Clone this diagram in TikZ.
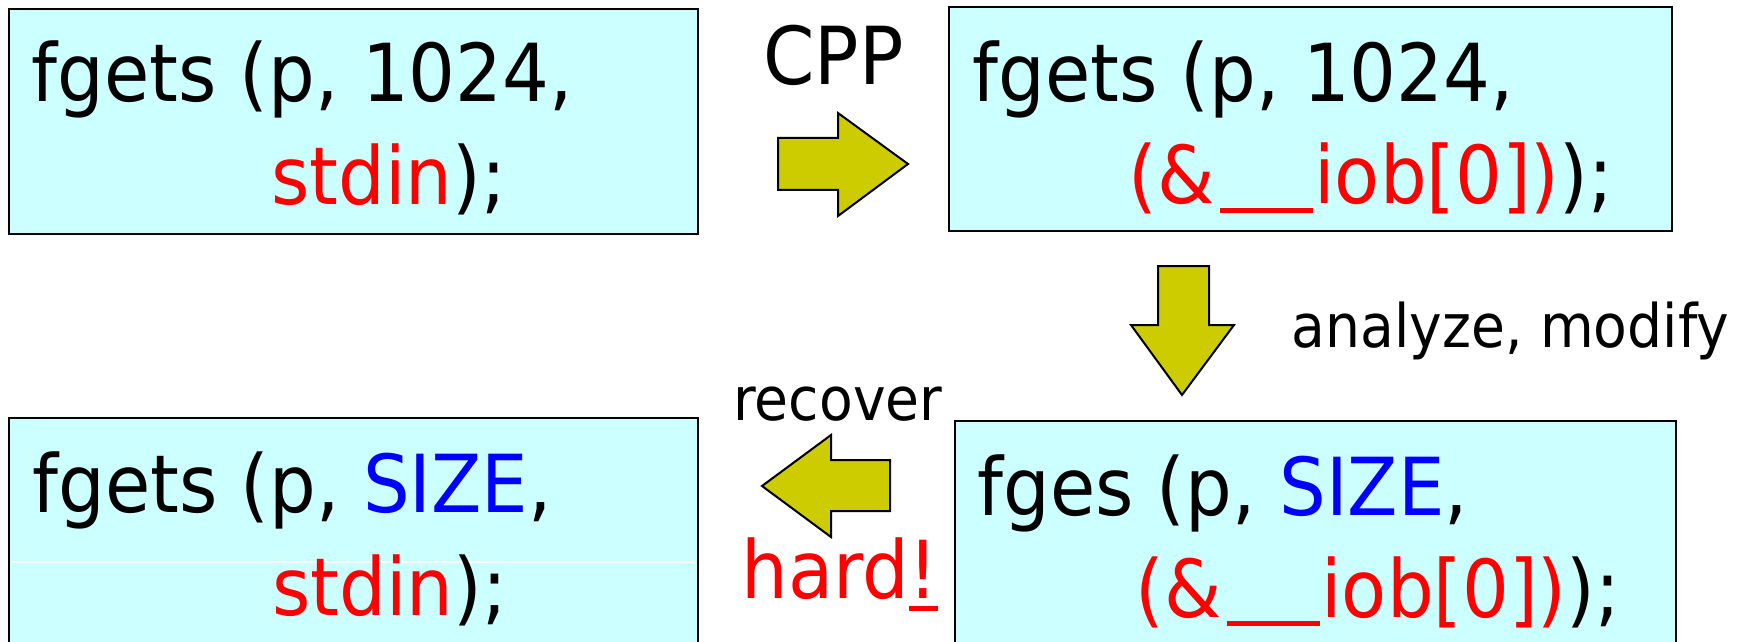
\documentclass[tikz,border=0pt]{standalone}
\usepackage{fontspec}
\setmainfont{DejaVu Sans}[FakeStretch=0.92]
\definecolor{boxfill}{HTML}{CCFFFF}
\definecolor{arrowfill}{HTML}{CCCC00}
\definecolor{hot}{HTML}{FF0000}
\definecolor{sym}{HTML}{0000FF}
% a wide underscore sitting close to the baseline
\newcommand{\lowbar}{\rule[-4.5pt]{23.25pt}{2.6pt}}
\newcommand{\iobref}{(\&\hspace{2.5pt}\lowbar\lowbar\hspace{1pt}iob[0])}
% underline of the width of its argument, a bit below the baseline
\newcommand{\barunder}[1]{{\setbox0\hbox{#1}\rlap{\rule[-6.5pt]{\wd0}{2.6pt}}\box0}}
\tikzset{
  codebox/.style={draw=black, line width=1.2pt, fill=boxfill},
  blockarrow/.style={draw=black, line width=1pt, fill=arrowfill, line join=miter},
  bigtext/.style={anchor=base west, inner sep=0pt, font=\fontsize{40pt}{48pt}\selectfont},
  smalltext/.style={anchor=base west, inner sep=0pt, font=\fontsize{30pt}{36pt}\selectfont},
}
\begin{document}
\begin{tikzpicture}[x=0.5pt, y=-0.5pt]
\useasboundingbox (0,0) rectangle (1742,642);
\clip (0,0) rectangle (1742,642);

% code boxes
\draw[codebox] (9,9) rectangle (698,234);
\draw[codebox] (949,7) rectangle (1672,231);
\draw[codebox] (955,421) rectangle (1676,670);
\draw[codebox] (9,418) rectangle (698,670);
\draw[white, line width=0.8pt] (12,562) -- (695,562);

% original source
\node[bigtext] (srcA) at (31,102) {fgets (p, 1024,};
\node[bigtext] (srcB) at (271,205) {\textcolor{hot}{stdin});};

% after preprocessing
\node[bigtext] (cppA) at (972,102) {fgets (p, 1024,};
\node[bigtext] (cppB) at (1128,204) {\textcolor{hot}{\iobref});};

% modified preprocessed code
\node[bigtext] (modA) at (977,515) {fges (p, \textcolor{sym}{SIZE},};
\node[bigtext] (modB) at (1135,617) {\textcolor{hot}{\iobref});};

% recovered source
\node[bigtext] (recA) at (32,512) {fgets (p, \textcolor{sym}{SIZE},};
\node[bigtext] (recB) at (272,615) {\textcolor{hot}{stdin});};

% step arrows
\draw[blockarrow] (778,138) -- (838,138) -- (838,113) -- (908,164) -- (838,216)
  -- (838,190) -- (778,190) -- cycle;
\draw[blockarrow] (1158,266) -- (1209,266) -- (1209,325) -- (1234,325) -- (1182,395)
  -- (1131,325) -- (1158,325) -- cycle;
\draw[blockarrow] (890,460) -- (831,460) -- (831,435) -- (762,486) -- (831,537)
  -- (831,511) -- (890,511) -- cycle;

% step labels
\node[bigtext] (cpp) at (763,85) {CPP};
\node[smalltext] (analyze) at (1291,347) {analyze, modify};
\node[smalltext] (recover) at (733,420) {recover};
\node[bigtext, text=hot] (hard) at (741,598) {hard\barunder{!}};
\end{tikzpicture}
\end{document}
